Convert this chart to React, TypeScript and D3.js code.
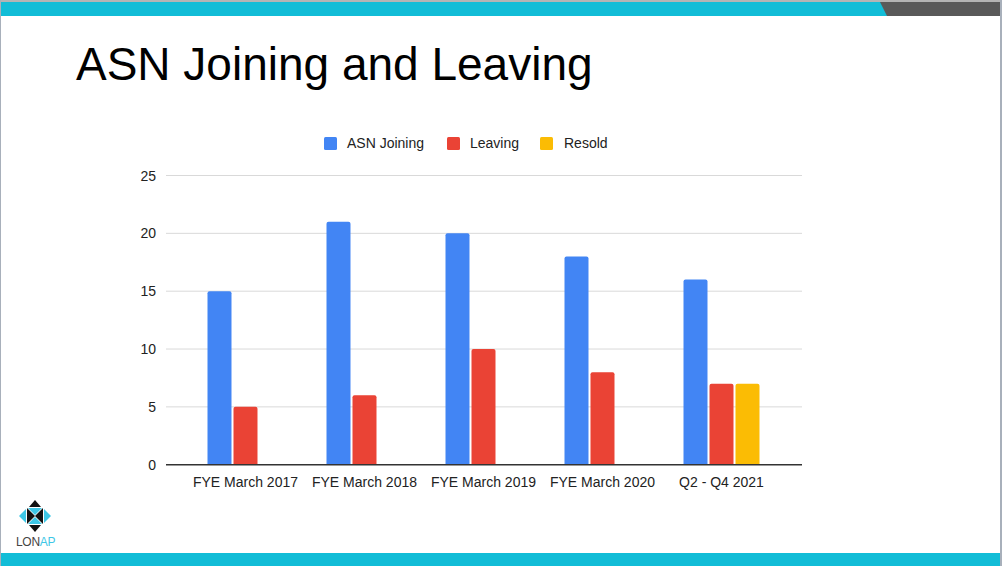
import React from "react";
import * as d3 from "d3";

const categories = ["FYE March 2017", "FYE March 2018", "FYE March 2019", "FYE March 2020", "Q2 - Q4 2021"];
const seriesNames = ["ASN Joining", "Leaving", "Resold"];
const asnJoining = [15, 21, 20, 18, 16];
const leaving = [5, 6, 10, 8, 7];
const resold = [0, 0, 0, 0, 7];
const yTicks = [0, 5, 10, 15, 20, 25];
const colors = ["#4285F4", "#EA4335", "#FBBC04"];

const W = 1002, H = 566;
const CYAN = "#12BDD7";
const FONT = "Arial, 'Liberation Sans', sans-serif";

function topRoundedBar(x: number, y: number, w: number, h: number, r: number) {
  const rr = Math.min(r, h, w / 2);
  return `M${x},${y + h}V${y + rr}Q${x},${y} ${x + rr},${y}H${x + w - rr}Q${x + w},${y} ${x + w},${y + rr}V${y + h}Z`;
}

export default function App() {
  const series = [asnJoining, leaving, resold];
  const y = d3.scaleLinear().domain([0, 25]).range([464.7, 175.5]);
  const x0 = d3.scaleBand<string>().domain(categories).range([186, 781]).padding(0);
  const gridX0 = 166, gridX1 = 802;

  const legendItems = [
    { x: 324, tx: 347 },
    { x: 447, tx: 470 },
    { x: 540, tx: 564 },
  ];

  return (
    <svg width={W} height={H} style={{ position: "absolute", left: 0, top: 0, display: "block" }}
      fontFamily={FONT}>
      <rect x={0} y={0} width={W} height={H} fill="#fff" />
      {/* frame */}
      <rect x={0} y={0} width={W} height={2} fill="#b4b4b4" />
      <rect x={0} y={0} width={1} height={H} fill="#a8b0bb" />
      <rect x={W - 2} y={0} width={2} height={H} fill="#a8b0bb" />
      {/* top band */}
      <rect x={1} y={2} width={W - 3} height={14} fill={CYAN} />
      <path d={`M880,2 L${W - 2},2 L${W - 2},16 L887,16 Z`} fill="#595959" />
      {/* bottom band */}
      <rect x={1} y={553} width={W - 3} height={13} fill={CYAN} />

      {/* title */}
      <text x={76} y={80} fontSize={46} fill="#000">ASN Joining and Leaving</text>

      {/* legend */}
      {seriesNames.map((n, i) => (
        <g key={n}>
          <rect x={legendItems[i].x} y={137} width={13} height={13} rx={1.5} fill={colors[i]} />
          <text x={legendItems[i].tx} y={148} fontSize={14} fill="#222">{n}</text>
        </g>
      ))}

      {/* gridlines & y labels */}
      {yTicks.map((t) => (
        <g key={t}>
          {t !== 0 && <line x1={gridX0} x2={gridX1} y1={y(t)} y2={y(t)} stroke="#d9d9d9" strokeWidth={1} />}
          <text x={156} y={y(t) + 5} fontSize={14} textAnchor="end" fill="#222">{t}</text>
        </g>
      ))}

      {/* bars */}
      {categories.map((c) => {
        const gx = x0(c)!;
        const center = gx + x0.bandwidth() / 2;
        const x1 = d3.scaleBand<string>().domain(seriesNames).range([center - 39, center + 39])
          .paddingInner(0.077).paddingOuter(0.0385);
        const ci = categories.indexOf(c);
        return (
          <g key={c}>
            {seriesNames.map((s, si) => {
              const v = series[si][ci];
              if (!v) return null;
              const top = y(v);
              return (
                <path key={s} d={topRoundedBar(x1(s)!, top, x1.bandwidth(), y(0) - top, 2)} fill={colors[si]} />
              );
            })}
            <text x={center} y={487} fontSize={14} textAnchor="middle" fill="#222">{c}</text>
          </g>
        );
      })}

      {/* baseline */}
      <line x1={gridX0} x2={gridX1} y1={y(0)} y2={y(0)} stroke="#333" strokeWidth={1.5} />

      {/* logo */}
      <g transform="translate(35,516)">
        <path d="M0,-16 L-6,-9 L6,-9 Z" fill="#111" />
        <path d="M0,16 L-6,9 L6,9 Z" fill="#111" />
        <path d="M-16,0 L-9,-7 L-9,7 Z" fill="#3ec7e6" />
        <path d="M16,0 L9,-7 L9,7 Z" fill="#3ec7e6" />
        <path d="M-8,-8 L0,0 L-8,8 Z" fill="#111" />
        <path d="M8,-8 L0,0 L8,8 Z" fill="#111" />
        <path d="M-7,-8 L7,-8 L0,-1 Z" fill="#3ec7e6" />
        <path d="M-7,8 L7,8 L0,1 Z" fill="#3ec7e6" />
      </g>
      <text x={16} y={546} fontSize={12} fill="#444" letterSpacing={-0.3}>
        LON<tspan fill="#3ec7e6">AP</tspan>
      </text>
    </svg>
  );
}
